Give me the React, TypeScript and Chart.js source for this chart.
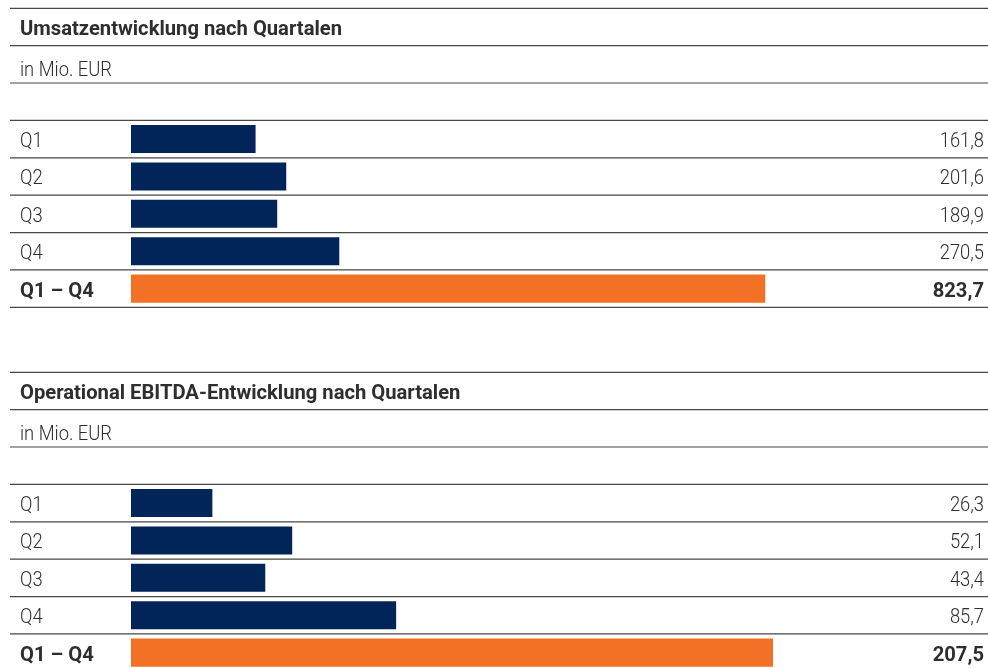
import React, { useEffect, useRef } from "react";
import { Chart, registerables } from "chart.js";

Chart.register(...registerables);

const categories = ["Q1", "Q2", "Q3", "Q4", "Q1 – Q4"];
const revenueValues = [161.8, 201.6, 189.9, 270.5, 823.7];
const revenueLabels = ["161,8", "201,6", "189,9", "270,5", "823,7"];
const ebitdaValues = [26.3, 52.1, 43.4, 85.7, 207.5];
const ebitdaLabels = ["26,3", "52,1", "43,4", "85,7", "207,5"];
const revenueTitle = "Umsatzentwicklung nach Quartalen";
const ebitdaTitle = "Operational EBITDA-Entwicklung nach Quartalen";
const unitText = "in Mio. EUR";

const NAVY = "#012459";
const ORANGE = "#F37124";
const TEXT = "#2e2e2e";
const LINE = "#474747";
const FONT = 'Roboto, "Noto Sans", sans-serif';
const BOLD_FONT = `bold 20px ${FONT}`;
const REG_FONT = `300 20px ${FONT}`;

const W = 988;
const H = 340;
const HEADER_LINES = [8.3, 45.7, 83.0];
const AREA_TOP = 120.4;
const AREA_BOTTOM = 307.3;

function makeConfig(title: string, values: number[], valueLabels: string[], max: number): any {
  const tablePlugin = {
    id: "tableDecor",
    afterDraw(chart: any) {
      const ctx = chart.ctx;
      const ys = chart.scales.y;
      const n = categories.length;
      const step = (ys.bottom - ys.top) / n;
      ctx.save();
      ctx.font = BOLD_FONT;
      const sxBold = 322 / ctx.measureText(revenueTitle).width;
      ctx.font = REG_FONT;
      const sxReg = 92 / ctx.measureText(unitText).width;
      const drawText = (t: string, x: number, y: number, align: string, bold: boolean) => {
        ctx.save();
        ctx.font = bold ? BOLD_FONT : REG_FONT;
        ctx.textAlign = align;
        ctx.textBaseline = "alphabetic";
        ctx.fillStyle = TEXT;
        ctx.translate(x, y);
        ctx.scale(bold ? sxBold : sxReg, 1);
        ctx.fillText(t, 0, 0);
        ctx.restore();
      };
      ctx.strokeStyle = LINE;
      ctx.lineWidth = 1.2;
      const lines: number[] = [...HEADER_LINES];
      for (let i = 0; i <= n; i++) lines.push(ys.getPixelForValue(0) - step / 2 + i * step);
      for (const y of lines) {
        ctx.beginPath();
        ctx.moveTo(10, y);
        ctx.lineTo(W, y);
        ctx.stroke();
      }
      drawText(title, 20, 35, "left", true);
      drawText(unitText, 20, 76, "left", false);
      for (let i = 0; i < n; i++) {
        const yc = ys.getPixelForValue(i);
        const bold = i === n - 1;
        drawText(categories[i], 20, yc + 8, "left", bold);
        drawText(valueLabels[i], 984, yc + 8, "right", bold);
      }
      ctx.restore();
    },
  };
  return {
    type: "bar",
    data: {
      labels: categories,
      datasets: [
        {
          data: values,
          backgroundColor: values.map((_, i) => (i === values.length - 1 ? ORANGE : NAVY)),
          borderWidth: 0,
          barPercentage: 0.75,
          categoryPercentage: 1,
        },
      ],
    },
    options: {
      indexAxis: "y",
      animation: false,
      responsive: false,
      maintainAspectRatio: false,
      devicePixelRatio: 1,
      layout: { padding: { left: 131, right: 0, top: AREA_TOP, bottom: H - AREA_BOTTOM } },
      plugins: { legend: { display: false }, tooltip: { enabled: false }, title: { display: false } },
      scales: {
        x: { display: false, min: 0, max },
        y: { display: false, offset: true, grid: { display: false } },
      },
    },
    plugins: [tablePlugin],
  };
}

function TableChart(props: { title: string; values: number[]; labels: string[]; max: number; top: number }) {
  const ref = useRef<HTMLCanvasElement>(null);
  useEffect(() => {
    if (!ref.current) return;
    const chart = new Chart(ref.current, makeConfig(props.title, props.values, props.labels, props.max));
    return () => chart.destroy();
  }, []);
  return (
    <canvas
      ref={ref}
      width={W}
      height={H}
      style={{ position: "absolute", left: 0, top: props.top, width: W, height: H }}
    />
  );
}

export default function App() {
  return (
    <div style={{ position: "fixed", left: 0, top: 0, width: W, height: 668, overflow: "hidden", background: "#fff" }}>
      <TableChart title={revenueTitle} values={revenueValues} labels={revenueLabels} max={1113} top={0} />
      <TableChart title={ebitdaTitle} values={ebitdaValues} labels={ebitdaLabels} max={277} top={364} />
    </div>
  );
}
